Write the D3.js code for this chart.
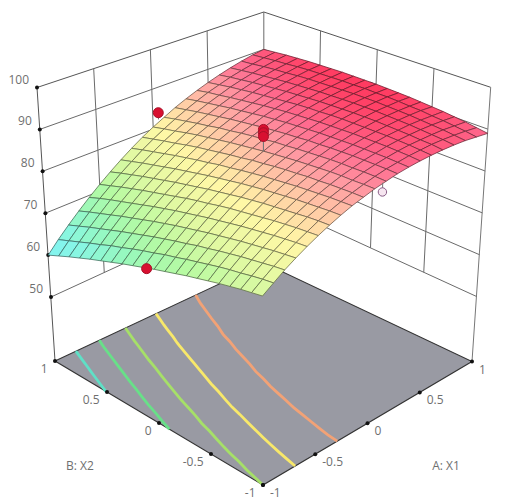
<!DOCTYPE html>
<html><head><meta charset="utf-8">
<script src="https://cdn.jsdelivr.net/npm/d3@7"></script>
<style>html,body{margin:0;background:#fff}svg{display:block}text{font-family:"Open Sans",sans-serif;font-size:12px;fill:#6f6f6f}</style>
</head><body><svg id="c" width="524" height="500"></svg>
<script>
const zTicks=[50,60,70,80,90,100];
const xTicks=[-1,-0.5,0,0.5,1];
const xTickLabels=["-1","-0.5","0","0.5","1"];
const gridLevels=[-1,-0.9,-0.8,-0.7,-0.6,-0.5,-0.4,-0.3,-0.2,-0.1,0,0.1,0.2,0.3,0.4,0.5,0.6,0.7,0.8,0.9,1];
const contourLevels=[65,70,75,80,85];
const contourColors=["#5fe0c6","#68e088","#a6e068","#f8e86a","#f2a276"];
// response values: one row per X2 level (-1..1), one column per X1 level (-1..1)
const surface=[
[75.0,76.7,78.4,79.9,81.3,82.6,83.8,84.9,85.9,86.7,87.5,88.1,88.7,89.1,89.4,89.6,89.7,89.7,89.6,89.3,89.0],
[74.6,76.4,78.1,79.6,81.1,82.4,83.7,84.8,85.8,86.7,87.5,88.2,88.8,89.2,89.6,89.8,90.0,90.0,89.9,89.7,89.4],
[74.2,76.0,77.7,79.3,80.8,82.2,83.5,84.6,85.7,86.6,87.4,88.2,88.8,89.3,89.7,90.0,90.1,90.2,90.2,90.0,89.8],
[73.7,75.5,77.3,78.9,80.5,81.9,83.2,84.4,85.5,86.5,87.4,88.1,88.8,89.3,89.8,90.1,90.3,90.4,90.4,90.3,90.1],
[73.2,75.1,76.9,78.5,80.1,81.6,82.9,84.2,85.3,86.3,87.3,88.1,88.8,89.3,89.8,90.2,90.4,90.6,90.6,90.5,90.4],
[72.6,74.6,76.4,78.1,79.7,81.2,82.6,83.9,85.1,86.2,87.1,88.0,88.7,89.3,89.8,90.2,90.5,90.7,90.8,90.8,90.6],
[72.0,74.0,75.9,77.6,79.3,80.8,82.3,83.6,84.8,85.9,86.9,87.8,88.6,89.2,89.8,90.2,90.6,90.8,90.9,90.9,90.8],
[71.4,73.4,75.3,77.1,78.8,80.4,81.9,83.3,84.5,85.7,86.7,87.6,88.4,89.1,89.7,90.2,90.6,90.9,91.0,91.1,91.0],
[70.7,72.8,74.8,76.6,78.3,80.0,81.5,82.9,84.2,85.4,86.4,87.4,88.3,89.0,89.6,90.2,90.6,90.9,91.1,91.2,91.1],
[70.0,72.1,74.1,76.0,77.8,79.5,81.0,82.5,83.8,85.0,86.1,87.1,88.0,88.8,89.5,90.1,90.5,90.9,91.1,91.2,91.2],
[69.3,71.5,73.5,75.4,77.2,78.9,80.5,82.0,83.4,84.7,85.8,86.9,87.8,88.6,89.3,89.9,90.4,90.8,91.1,91.3,91.3],
[68.5,70.7,72.8,74.8,76.6,78.4,80.0,81.5,82.9,84.2,85.4,86.5,87.5,88.4,89.1,89.8,90.3,90.7,91.0,91.2,91.3],
[67.7,70.0,72.1,74.1,76.0,77.8,79.4,81.0,82.5,83.8,85.0,86.2,87.2,88.1,88.9,89.6,90.1,90.6,90.9,91.2,91.3],
[66.9,69.2,71.3,73.4,75.3,77.1,78.8,80.4,81.9,83.3,84.6,85.8,86.8,87.8,88.6,89.3,89.9,90.4,90.8,91.1,91.3],
[66.0,68.3,70.5,72.6,74.6,76.4,78.2,79.8,81.4,82.8,84.1,85.3,86.4,87.4,88.3,89.0,89.7,90.2,90.7,91.0,91.2],
[65.1,67.5,69.7,71.8,73.8,75.7,77.5,79.2,80.8,82.3,83.6,84.9,86.0,87.0,87.9,88.7,89.4,90.0,90.5,90.9,91.1],
[64.2,66.5,68.8,71.0,73.0,75.0,76.8,78.5,80.2,81.7,83.1,84.3,85.5,86.6,87.5,88.4,89.1,89.7,90.2,90.7,91.0],
[63.2,65.6,67.9,70.1,72.2,74.2,76.1,77.8,79.5,81.0,82.5,83.8,85.0,86.1,87.1,88.0,88.8,89.4,90.0,90.4,90.8],
[62.2,64.6,67.0,69.2,71.4,73.4,75.3,77.1,78.8,80.4,81.8,83.2,84.5,85.6,86.6,87.6,88.4,89.1,89.7,90.2,90.6],
[61.1,63.6,66.0,68.3,70.5,72.5,74.5,76.3,78.1,79.7,81.2,82.6,83.9,85.1,86.2,87.1,88.0,88.7,89.3,89.9,90.3],
[60.0,62.6,65.0,67.3,69.5,71.6,73.6,75.5,77.3,79.0,80.5,81.9,83.3,84.5,85.6,86.6,87.5,88.3,89.0,89.6,90.0]];
// design points
const pointX1=[0.05,-1,0,0,0,0.07,1];
const pointX2=[1,0.07,0,0,0,-1,0.05];
const pointZ=[83.6,68.6,91.0,90.2,89.3,86.0,90.2];
const pointAbove=[true,true,true,true,true,false,false];

const svg=d3.select("#c");
// projection: four corners of three horizontal planes, [F(-1,-1), R(1,-1), L(-1,1), B(1,1)]
const floorZ=34.8;
const plane100=[[262,180],[490.7,87.3],[37,87.5],[263.8,12]];
const plane50=[[263,412],[477,296.7],[51,297],[264,199]];
const planeFloor=[[263,485],[472,361.5],[55,361],[264,263]];
const uS=d3.scaleLinear().domain([-1,1]).range([0,1]);
const upper=d3.scaleLinear().domain([50,100]).range([0,1]);
const lower=d3.scaleLinear().domain([floorZ,50]).range([0,1]);
function onPlane(P,x1,x2){const u=uS(x1),v=uS(x2),w=[(1-u)*(1-v),u*(1-v),(1-u)*v,u*v];
  return [d3.sum(P,(p,i)=>w[i]*p[0]),d3.sum(P,(p,i)=>w[i]*p[1])];}
function proj(x1,x2,z){
  const a=z>=50?onPlane(plane50,x1,x2):onPlane(planeFloor,x1,x2);
  const b=z>=50?onPlane(plane100,x1,x2):onPlane(plane50,x1,x2);
  const t=z>=50?upper(z):lower(z);
  return [a[0]+(b[0]-a[0])*t,a[1]+(b[1]-a[1])*t];}
const line=d3.line();
const color=d3.scaleLinear()
 .domain([60,64,68,72,76,81,84.5,87,89,91.3])
 .range(["#80f2f6","#88f6e2","#98f8bc","#b6faa2","#def9a2","#fff8a6","#ffcaa6","#ff9aa2","#ff6c90","#ff3a60"]);
const seg=(g,a,b,st,w)=>g.append("path").attr("d",line([a,b])).attr("stroke",st).attr("stroke-width",w).attr("fill","none");

// walls
const wall=svg.append("g");
zTicks.forEach(z=>{
  const st=z===100?"#555":"#6a6a6a";
  seg(wall,proj(-1,1,z),proj(1,1,z),st,1);
  seg(wall,proj(1,1,z),proj(1,-1,z),st,1);
});
[-0.5,0,0.5].forEach(t=>{
  seg(wall,proj(t,1,100),proj(t,1,50),"#6a6a6a",1);
  seg(wall,proj(1,t,100),proj(1,t,50),"#6a6a6a",1);
});
seg(wall,proj(1,1,100),proj(1,1,floorZ),"#6a6a6a",1);
seg(wall,proj(-1,1,100),proj(-1,1,floorZ),"#555",1);
seg(wall,proj(1,-1,100),proj(1,-1,floorZ),"#777",1);

// floor
const fc=[[-1,1],[1,1],[1,-1],[-1,-1]].map(d=>proj(d[0],d[1],floorZ));
svg.append("path").attr("d",line(fc)+"Z").attr("fill","#999aa3").attr("stroke","#333").attr("stroke-width",1.1);

// contour lines on the floor from the surface table
const flat=surface.flat();
const cs=d3.contours().size([21,21]).smooth(true).thresholds(contourLevels)(flat);
const cg=svg.append("g").attr("fill","none").attr("stroke-width",2.8);
const toLevel=d3.scaleLinear().domain([0.5,20.5]).range([-1,1]).clamp(true);
cs.forEach((mp,k)=>{
  mp.coordinates.forEach(poly=>poly.forEach(ring=>{
    let runs=[],cur=[];
    ring.forEach(p=>{
      if(p[0]>0&&p[0]<21&&p[1]>0&&p[1]<21){cur.push(p);}
      else{if(cur.length)runs.push(cur);cur=[];}
    });
    if(cur.length)runs.push(cur);
    if(runs.length>1&&runs[0][0]===ring[0]&&runs[runs.length-1].slice(-1)[0]===ring[ring.length-1]){
      const last=runs.pop();runs[0]=last.concat(runs[0]);
    }
    runs.filter(r=>r.length>1).forEach(r=>{
      cg.append("path").attr("stroke",contourColors[k])
        .attr("d",line(r.map(p=>proj(toLevel(p[0]),toLevel(p[1]),floorZ))));
    });
  }));
});

// axis tick dots and labels
const dots=[];
zTicks.forEach(z=>dots.push(proj(-1,1,z)));
xTicks.forEach(t=>{dots.push(proj(-1,t,floorZ));dots.push(proj(t,-1,floorZ));});
svg.append("g").selectAll("circle").data(dots).join("circle")
  .attr("cx",d=>d[0]).attr("cy",d=>d[1]).attr("r",2).attr("fill","#111");
const lab=svg.append("g");
zTicks.forEach(z=>{const p=proj(-1,1,z);
  lab.append("text").attr("x",p[0]-8).attr("y",p[1]-4).attr("text-anchor","end").text(z);});
xTicks.forEach((t,i)=>{
  const a=proj(-1,t,floorZ),b=proj(t,-1,floorZ);
  lab.append("text").attr("x",a[0]-7.5).attr("y",a[1]+12).attr("text-anchor","end").text(xTickLabels[i]);
  lab.append("text").attr("x",b[0]+7).attr("y",b[1]+12).attr("text-anchor","start").text(xTickLabels[i]);
});
lab.append("text").attr("x",80).attr("y",470).attr("text-anchor","middle").text("B: X2");
lab.append("text").attr("x",446).attr("y",470).attr("text-anchor","middle").text("A: X1");

// points
const surfAt=(a,b)=>surface[d3.bisectCenter(gridLevels,b)][d3.bisectCenter(gridLevels,a)];
function drawPoint(i,g){
  const p=proj(pointX1[i],pointX2[i],pointZ[i]);
  const s=proj(pointX1[i],pointX2[i],surfAt(pointX1[i],pointX2[i]));
  seg(g,p,s,"#777",1);
  g.append("circle").attr("cx",p[0]).attr("cy",p[1]).attr("r",pointAbove[i]?5:4.2)
    .attr("fill",pointAbove[i]?"#d81030":"#f6e6f0").attr("stroke",pointAbove[i]?"#a81028":"#8a5f88").attr("stroke-width",1);
}
pointZ.forEach((z,i)=>{if(!pointAbove[i]&&pointX1[i]===1)drawPoint(i,svg);});

// surface, back to front
const mesh=svg.append("g").attr("stroke-width",0.8).attr("stroke-linejoin","round");
for(let j=19;j>=0;j--)for(let i=19;i>=0;i--){
  const c=[[i,j],[i+1,j],[i+1,j+1],[i,j+1]];
  const f=color(d3.mean(c,q=>surface[q[1]][q[0]]));
  mesh.append("path")
    .attr("d",line(c.map(q=>proj(gridLevels[q[0]],gridLevels[q[1]],surface[q[1]][q[0]])))+"Z")
    .attr("fill",f).attr("stroke",d3.color(f).darker(2.2).formatHex());
}
pointZ.forEach((z,i)=>{if(pointAbove[i]||pointX1[i]!==1)drawPoint(i,svg);});
</script></body></html>
